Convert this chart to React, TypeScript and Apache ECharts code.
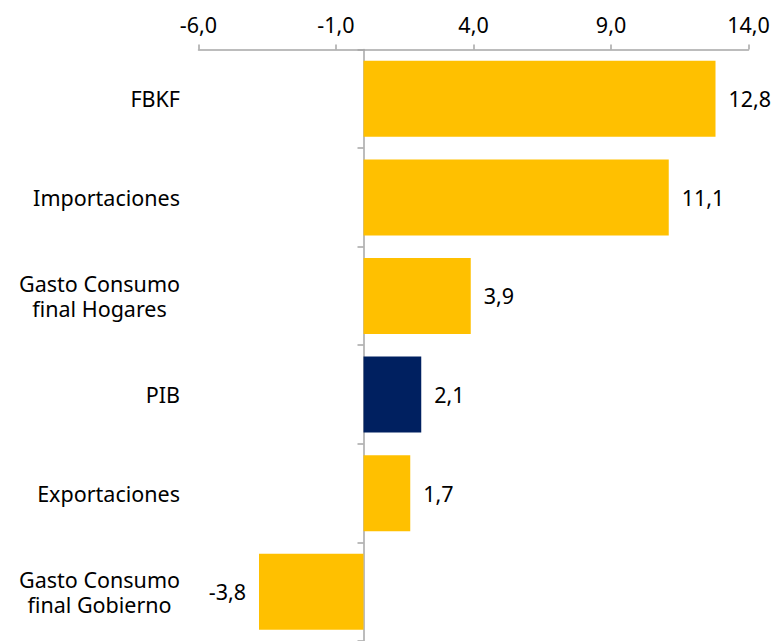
import React, { useEffect, useRef } from "react";
import * as echarts from "echarts";

const categories: string[] = [
  "FBKF",
  "Importaciones",
  "Gasto Consumo\nfinal Hogares",
  "PIB",
  "Exportaciones",
  "Gasto Consumo\nfinal Gobierno",
];
const values: number[] = [12.8, 11.1, 3.9, 2.1, 1.7, -3.8];
const highlight: string = "PIB";
const xMin = -6;
const xMax = 14;
const xInterval = 5;

const YELLOW = "#FFC000";
const NAVY = "#002060";
const AXIS = "#A6A6A6";
const FONT = "'Noto Sans', sans-serif";
const FS = 21.5;

const fmt = (v: number) => v.toFixed(1).replace(".", ",");

export default function App() {
  const ref = useRef<HTMLDivElement>(null);
  useEffect(() => {
    document.body.style.margin = "0";
    if (!ref.current) return;
    const chart = echarts.init(ref.current, undefined, { renderer: "svg" });
    chart.setOption({
      animation: false,
      backgroundColor: "#ffffff",
      grid: {
        left: 198.5,
        right: 23.5,
        top: 49.5,
        bottom: 0,
        containLabel: false,
        outerBoundsMode: "none",
      },
      xAxis: {
        type: "value",
        position: "top",
        min: xMin,
        max: xMax,
        interval: xInterval,
        splitLine: { show: false },
        axisLine: { show: true, onZero: false, lineStyle: { color: AXIS, width: 1.5 } },
        axisTick: { show: true, length: 5, lineStyle: { color: AXIS, width: 1.5 } },
        axisLabel: {
          formatter: (v: number) => fmt(v),
          color: "#000",
          fontSize: FS,
          fontFamily: FONT,
          margin: 14,
        },
      },
      yAxis: {
        type: "category",
        inverse: true,
        data: categories,
        axisLine: { show: true, onZero: true, lineStyle: { color: AXIS, width: 1.5 } },
        axisTick: { show: true, length: 6, lineStyle: { color: AXIS, width: 1.5 } },
        axisLabel: {
          align: "right",
          margin: 18.5,
          formatter: (v: string) =>
            v
              .split("\n")
              .map((l) => `{c|${l}}`)
              .join("\n"),
          rich: {
            c: {
              align: "center",
              fontSize: FS,
              fontFamily: FONT,
              color: "#000",
              lineHeight: 25,
            },
          },
        },
      },
      series: [
        {
          type: "bar",
          barWidth: 76,
          data: values.map((v, i) => ({
            value: v,
            itemStyle: { color: categories[i] === highlight ? NAVY : YELLOW },
            label: { position: v < 0 ? "left" : "right" },
          })),
          label: {
            show: true,
            distance: 13,
            formatter: (p: any) => fmt(p.value),
            color: "#000",
            fontSize: FS,
            fontFamily: FONT,
          },
        },
      ],
    });
    return () => chart.dispose();
  }, []);
  return <div ref={ref} style={{ width: 772, height: 641 }} />;
}
